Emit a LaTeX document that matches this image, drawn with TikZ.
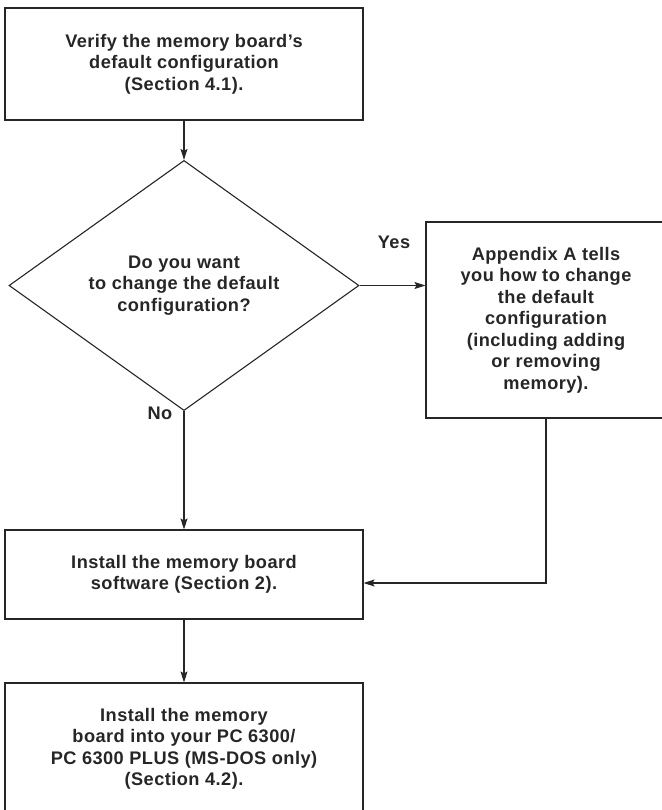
\documentclass[tikz,border=0pt]{standalone}
\usepackage{fontspec}
\setmainfont{Liberation Sans}[LetterSpace=2.5]
\usetikzlibrary{arrows.meta,shapes.geometric}
\begin{document}
\begin{tikzpicture}[x=1pt,y=-1pt,line width=1.1pt,color=black!85,>={Stealth[length=11pt,width=7pt,inset=2pt]}]
\tikzstyle{every node}=[font=\bfseries\fontsize{18.2}{21.5}\selectfont, align=center, inner sep=0pt]
\tikzstyle{box}=[draw, rectangle, minimum width=358pt]
\useasboundingbox (0,0) rectangle (661,810);
\draw (184,64) node (verify) [box, minimum height=112pt] {Verify the memory board's\\default configuration\\(Section 4.1).};
\draw (184,285.5) node (change) [draw, diamond, minimum width=350pt, minimum height=203pt] {Do you want\\to change the default\\configuration?};
\draw (546,320) node (appx) [box, minimum width=240pt, minimum height=196pt] {Appendix A tells\\you how to change\\the default\\configuration\\(including adding\\or removing\\memory).};
\draw (184,574.5) node (inst) [box, minimum height=89pt] {Install the memory board\\software (Section 2).};
\draw (184,749) node (board) [box, minimum height=132pt] {Install the memory\\board into your PC 6300/\\PC 6300 PLUS (MS-DOS only)\\(Section 4.2).};
\draw (394,242) node (yes) {Yes};
\draw (160,413) node (no) {No};
\coordinate (bend) at (546,583);
\draw[->] (verify) -- (change);
\draw[->] (change.east) -- (change.east -| appx.west);
\draw[->] (change) -- (inst);
\draw[->] (appx) -- (bend) -- (bend -| inst.east);
\draw[->] (inst) -- (board);
\end{tikzpicture}
\end{document}
